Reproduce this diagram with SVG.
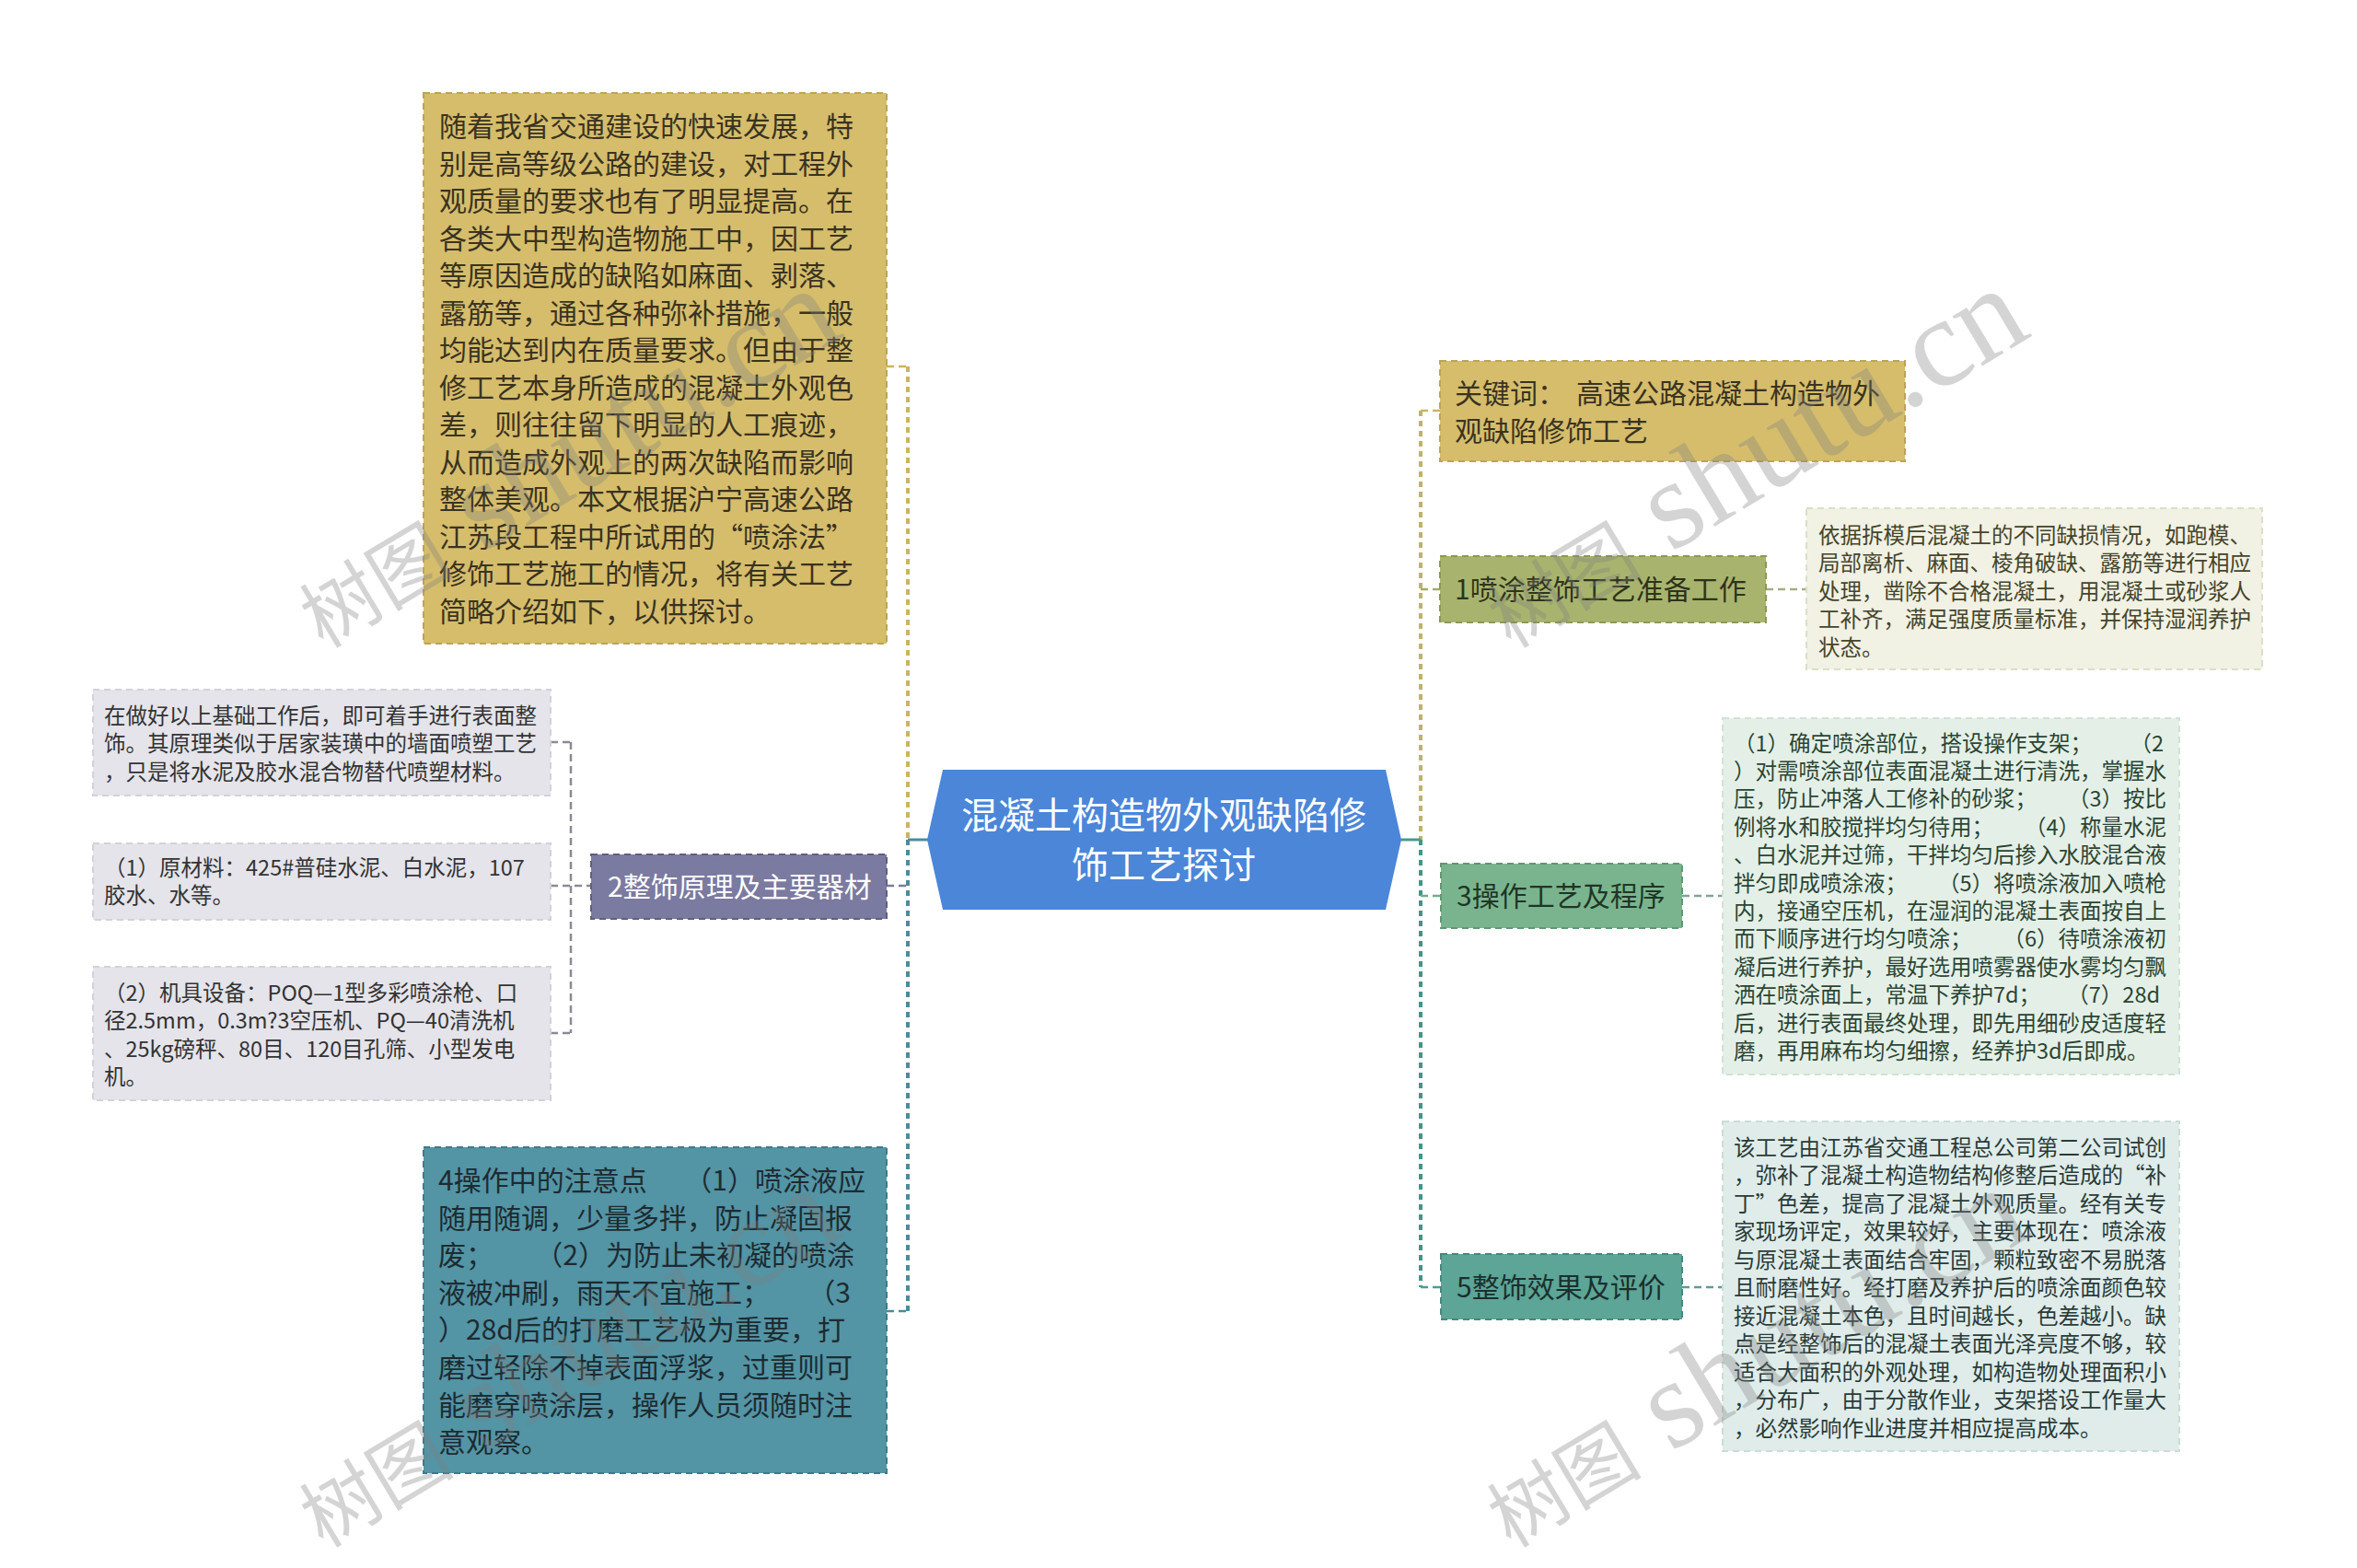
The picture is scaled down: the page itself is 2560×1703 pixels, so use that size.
<svg xmlns="http://www.w3.org/2000/svg" width="2560" height="1703" viewBox="0 0 2560 1703">
<style>
text{font-family:"Noto Sans CJK SC","Noto Sans",sans-serif;}
.big{font-size:30px;}
.sm{font-size:23.5px;}
.dash{stroke-width:2;stroke-dasharray:7 5;}
.cn{fill:none;stroke-width:2.5;stroke-dasharray:8 5;}
.wm{font-family:"Liberation Serif","Noto Sans CJK SC",serif;font-size:137px;fill:#808080;opacity:0.33;}
.wmc{font-size:84px;}
</style>
<rect width="2560" height="1703" fill="#ffffff"/>

<g id="connectors">
  <line x1="986" y1="398" x2="986" y2="912" stroke="#cbb462" stroke-width="4" stroke-dasharray="6 5" fill="none"/>
  <line x1="986" y1="912" x2="986" y2="1424" stroke="#4b8c9c" stroke-width="4" stroke-dasharray="6 5" fill="none"/>
  <line x1="963" y1="398" x2="986" y2="398" stroke="#cbb462" class="cn"/>
  <line x1="963" y1="1424" x2="986" y2="1424" stroke="#4b8c9c" class="cn"/>
  <line x1="963" y1="962" x2="986" y2="962" stroke="#7d7c98" class="cn"/>
  <line x1="986" y1="912" x2="1008" y2="912" stroke="#4a8d9b" stroke-width="3"/>
  <line x1="1543" y1="446" x2="1543" y2="912" stroke="#bdb465" stroke-width="4" stroke-dasharray="6 5" fill="none"/>
  <line x1="1543" y1="912" x2="1543" y2="1398" stroke="#3f9787" stroke-width="4" stroke-dasharray="6 5" fill="none"/>
  <line x1="1521" y1="912" x2="1543" y2="912" stroke="#4a9a8c" stroke-width="3"/>
  <line x1="1543" y1="446" x2="1564" y2="446" stroke="#cbb462" class="cn"/>
  <line x1="1543" y1="640" x2="1564" y2="640" stroke="#a3ad66" class="cn"/>
  <line x1="1543" y1="973" x2="1565" y2="973" stroke="#72ad88" class="cn"/>
  <line x1="1543" y1="1398" x2="1565" y2="1398" stroke="#4f9c8f" class="cn"/>
  <line x1="1918" y1="640" x2="1962" y2="640" stroke="#a9ad84" class="cn"/>
  <line x1="1827" y1="973" x2="1871" y2="973" stroke="#7fa68f" class="cn"/>
  <line x1="1827" y1="1398" x2="1871" y2="1398" stroke="#5f9c93" class="cn"/>
  <line x1="598" y1="962" x2="642" y2="962" stroke="#8a8a96" class="cn"/>
  <line x1="620" y1="806" x2="620" y2="1122" stroke="#8a8a96" class="cn"/>
  <line x1="598" y1="806" x2="620" y2="806" stroke="#8a8a96" class="cn"/>
  <line x1="598" y1="1122" x2="620" y2="1122" stroke="#8a8a96" class="cn"/>
</g>

<g id="center">
  <polygon points="1007,912 1024,836 1505,836 1522,912 1505,988 1024,988" fill="#4b86d9"/>
  <text x="1264" y="900" font-size="40" fill="#ffffff" text-anchor="middle">混凝土构造物外观缺陷修</text>
  <text x="1264" y="954" font-size="40" fill="#ffffff" text-anchor="middle">饰工艺探讨</text>
</g>

<g id="intro">
  <rect x="460" y="101" width="503" height="598" fill="#d5bd6c" stroke="#bda453" class="dash"/>
  <text class="big" fill="#3a3320">
    <tspan x="477" y="148">随着我省交通建设的快速发展，特</tspan>
    <tspan x="477" y="188.5">别是高等级公路的建设，对工程外</tspan>
    <tspan x="477" y="229">观质量的要求也有了明显提高。在</tspan>
    <tspan x="477" y="269.5">各类大中型构造物施工中，因工艺</tspan>
    <tspan x="477" y="310">等原因造成的缺陷如麻面、剥落、</tspan>
    <tspan x="477" y="350.5">露筋等，通过各种弥补措施，一般</tspan>
    <tspan x="477" y="391">均能达到内在质量要求。但由于整</tspan>
    <tspan x="477" y="431.5">修工艺本身所造成的混凝土外观色</tspan>
    <tspan x="477" y="472">差，则往往留下明显的人工痕迹，</tspan>
    <tspan x="477" y="512.5">从而造成外观上的两次缺陷而影响</tspan>
    <tspan x="477" y="553">整体美观。本文根据沪宁高速公路</tspan>
    <tspan x="477" y="593.5">江苏段工程中所试用的“喷涂法”</tspan>
    <tspan x="477" y="634">修饰工艺施工的情况，将有关工艺</tspan>
    <tspan x="477" y="674.5">简略介绍如下，以供探讨。</tspan>
  </text>
</g>

<g id="node2">
  <rect x="642" y="928" width="321" height="70" fill="#7b7aa0" stroke="#5f5e84" class="dash"/>
  <text class="big" x="660" y="974" fill="#ffffff">2整饰原理及主要器材</text>
</g>

<g id="node2-c1">
  <rect x="101" y="749" width="497" height="115" fill="#e4e4ea" stroke="#d2d2da" class="dash"/>
  <text class="sm" fill="#333333">
    <tspan x="113" y="785.5">在做好以上基础工作后，即可着手进行表面整</tspan>
    <tspan x="113" y="816">饰。其原理类似于居家装璜中的墙面喷塑工艺</tspan>
    <tspan x="113" y="846.5">，只是将水泥及胶水混合物替代喷塑材料。</tspan>
  </text>
</g>

<g id="node2-c2">
  <rect x="101" y="916" width="497" height="83" fill="#e4e4ea" stroke="#d2d2da" class="dash"/>
  <text class="sm" fill="#333333">
    <tspan x="113" y="950.5">（1）原材料：425#普硅水泥、白水泥，107</tspan>
    <tspan x="113" y="981">胶水、水等。</tspan>
  </text>
</g>

<g id="node2-c3">
  <rect x="101" y="1050" width="497" height="145" fill="#e4e4ea" stroke="#d2d2da" class="dash"/>
  <text class="sm" fill="#333333">
    <tspan x="113" y="1086.5">（2）机具设备：POQ—1型多彩喷涂枪、口</tspan>
    <tspan x="113" y="1117">径2.5mm，0.3m?3空压机、PQ—40清洗机</tspan>
    <tspan x="113" y="1147.5">、25kg磅秤、80目、120目孔筛、小型发电</tspan>
    <tspan x="113" y="1178">机。</tspan>
  </text>
</g>

<g id="node4">
  <rect x="460" y="1246" width="503" height="354" fill="#5394a5" stroke="#3d7a8b" class="dash"/>
  <text class="big" fill="#1d2b30">
    <tspan x="476" y="1293">4操作中的注意点</tspan>
    <tspan x="476" y="1333.6">随用随调，少量多拌，防止凝固报</tspan>
    <tspan x="476" y="1374.2">废；</tspan>
    <tspan x="476" y="1414.8">液被冲刷，雨天不宜施工；</tspan>
    <tspan x="476" y="1455.4">）28d后的打磨工艺极为重要，打</tspan>
    <tspan x="476" y="1496">磨过轻除不掉表面浮浆，过重则可</tspan>
    <tspan x="476" y="1536.6">能磨穿喷涂层，操作人员须随时注</tspan>
    <tspan x="476" y="1577.2">意观察。</tspan>
  </text>
  <text class="big" fill="#1d2b30" text-anchor="end" x="940" y="1293">（1）喷涂液应</text>
  <text class="big" fill="#1d2b30" text-anchor="end" x="928" y="1374.2">（2）为防止未初凝的喷涂</text>
  <text class="big" fill="#1d2b30" text-anchor="end" x="924" y="1414.8">（3</text>
</g>

<g id="keywords">
  <rect x="1564" y="392" width="505" height="109" fill="#d5bd6c" stroke="#bda453" class="dash"/>
  <text class="big" fill="#3a3320">
    <tspan x="1580" y="438">关键词：</tspan><tspan x="1712" y="438">高速公路混凝土构造物外</tspan>
    <tspan x="1580" y="478.5">观缺陷修饰工艺</tspan>
  </text>
</g>

<g id="node1">
  <rect x="1564" y="604" width="354" height="72" fill="#a8b46e" stroke="#8c9853" class="dash"/>
  <text class="big" x="1580" y="651" fill="#2e331a">1喷涂整饰工艺准备工作</text>
</g>

<g id="node1-c1">
  <rect x="1962" y="552" width="495" height="175" fill="#f1f1e4" stroke="#deddc8" class="dash"/>
  <text class="sm" fill="#45452a">
    <tspan x="1975" y="589.5">依据拆模后混凝土的不同缺损情况，如跑模、</tspan>
    <tspan x="1975" y="620">局部离析、麻面、棱角破缺、露筋等进行相应</tspan>
    <tspan x="1975" y="650.5">处理，凿除不合格混凝土，用混凝土或砂浆人</tspan>
    <tspan x="1975" y="681">工补齐，满足强度质量标准，并保持湿润养护</tspan>
    <tspan x="1975" y="711.5">状态。</tspan>
  </text>
</g>

<g id="node3">
  <rect x="1565" y="938" width="262" height="70" fill="#7ab48e" stroke="#5f9873" class="dash"/>
  <text class="big" x="1582" y="984" fill="#1f3526">3操作工艺及程序</text>
</g>

<g id="node3-c1">
  <rect x="1871" y="780" width="496" height="387" fill="#e4f0e7" stroke="#d0e2d5" class="dash"/>
  <text class="sm" fill="#2b4533">
    <tspan x="1883" y="815.5">（1）确定喷涂部位，搭设操作支架；</tspan>
    <tspan x="1883" y="845.9">）对需喷涂部位表面混凝土进行清洗，掌握水</tspan>
    <tspan x="1883" y="876.3">压，防止冲落人工修补的砂浆；</tspan>
    <tspan x="1883" y="906.7">例将水和胶搅拌均匀待用；</tspan>
    <tspan x="1883" y="937.1">、白水泥并过筛，干拌均匀后掺入水胶混合液</tspan>
    <tspan x="1883" y="967.5">拌匀即成喷涂液；</tspan>
    <tspan x="1883" y="997.9">内，接通空压机，在湿润的混凝土表面按自上</tspan>
    <tspan x="1883" y="1028.3">而下顺序进行均匀喷涂；</tspan>
    <tspan x="1883" y="1058.7">凝后进行养护，最好选用喷雾器使水雾均匀飘</tspan>
    <tspan x="1883" y="1089.1">洒在喷涂面上，常温下养护7d；</tspan>
    <tspan x="1883" y="1119.5">后，进行表面最终处理，即先用细砂皮适度轻</tspan>
    <tspan x="1883" y="1149.9">磨，再用麻布均匀细擦，经养护3d后即成。</tspan>
  </text>
  <g fill="#2b4533" text-anchor="end">
    <text class="sm" x="2350" y="815.5">（2</text>
    <text class="sm" x="2353" y="876.3">（3）按比</text>
    <text class="sm" x="2353" y="906.7">（4）称量水泥</text>
    <text class="sm" x="2353" y="967.5">（5）将喷涂液加入喷枪</text>
    <text class="sm" x="2353" y="1028.3">（6）待喷涂液初</text>
    <text class="sm" x="2346" y="1089.1">（7）28d</text>
  </g>
</g>

<g id="node5">
  <rect x="1565" y="1362" width="262" height="71" fill="#5ca597" stroke="#43897c" class="dash"/>
  <text class="big" x="1582" y="1409" fill="#1a302c">5整饰效果及评价</text>
</g>

<g id="node5-c1">
  <rect x="1871" y="1218" width="496" height="358" fill="#dfecea" stroke="#c9dcd8" class="dash"/>
  <text class="sm" fill="#2a3b38">
    <tspan x="1883" y="1254.5">该工艺由江苏省交通工程总公司第二公司试创</tspan>
    <tspan x="1883" y="1285">，弥补了混凝土构造物结构修整后造成的“补</tspan>
    <tspan x="1883" y="1315.5">丁”色差，提高了混凝土外观质量。经有关专</tspan>
    <tspan x="1883" y="1346">家现场评定，效果较好，主要体现在：喷涂液</tspan>
    <tspan x="1883" y="1376.5">与原混凝土表面结合牢固，颗粒致密不易脱落</tspan>
    <tspan x="1883" y="1407">且耐磨性好。经打磨及养护后的喷涂面颜色较</tspan>
    <tspan x="1883" y="1437.5">接近混凝土本色，且时间越长，色差越小。缺</tspan>
    <tspan x="1883" y="1468">点是经整饰后的混凝土表面光泽亮度不够，较</tspan>
    <tspan x="1883" y="1498.5">适合大面积的外观处理，如构造物处理面积小</tspan>
    <tspan x="1883" y="1529">，分布广，由于分散作业，支架搭设工作量大</tspan>
    <tspan x="1883" y="1559.5">，必然影响作业进度并相应提高成本。</tspan>
  </text>
</g>

<g id="watermarks">
  <text class="wm" transform="translate(351,705) rotate(-31)"><tspan class="wmc">树图</tspan> shutu.cn</text>
  <text class="wm" transform="translate(1641,705) rotate(-31)"><tspan class="wmc">树图</tspan> shutu.cn</text>
  <text class="wm" transform="translate(351,1682) rotate(-31)"><tspan class="wmc">树图</tspan> shutu.cn</text>
  <text class="wm" transform="translate(1641,1682) rotate(-31)"><tspan class="wmc">树图</tspan> shutu.cn</text>
</g>
</svg>
